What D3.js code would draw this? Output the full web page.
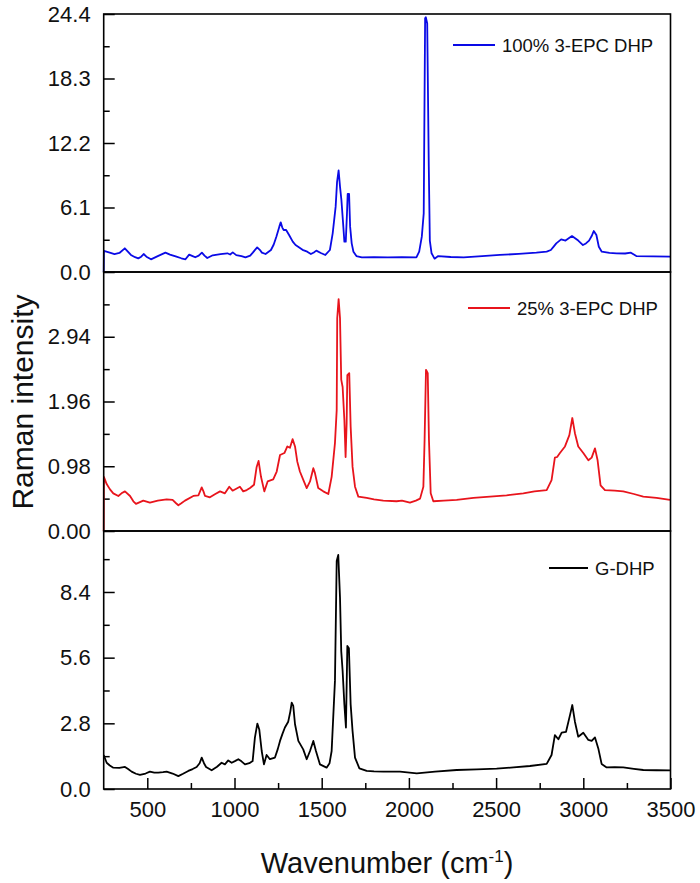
<!DOCTYPE html>
<html><head><meta charset="utf-8">
<script src="https://cdn.jsdelivr.net/npm/d3@7/dist/d3.min.js"></script>
<style>
body{margin:0;background:#fff}
text{font-family:Arial,"Liberation Sans",sans-serif;fill:#111}
</style>
</head><body>
<svg id="chart" width="700" height="883"></svg>
<script>
// ---------- data ----------
const xTickValues = [500, 1000, 1500, 2000, 2500, 3000, 3500];
const xMinorTicks = [750, 1250, 1750, 2250, 2750, 3250];

const seriesNames = ["100% 3-EPC DHP", "25% 3-EPC DHP", "G-DHP"];

const yTicksTop = [0, 6.1, 12.2, 18.3, 24.4];
const yTickLabelsTop = ["0.0", "6.1", "12.2", "18.3", "24.4"];
const yTicksMid = [0, 0.98, 1.96, 2.94];
const yTickLabelsMid = ["0.00", "0.98", "1.96", "2.94"];
const yTicksBot = [0, 2.8, 5.6, 8.4];
const yTickLabelsBot = ["0.0", "2.8", "5.6", "8.4"];

// [wavenumber, intensity]
const blueSpectrum = [
[250,0],[251,1.99],[280,1.85],[312,1.70],[340,1.80],[371,2.24],[390,1.90],[406,1.61],[430,1.40],[448,1.29],
[465,1.45],[479,1.70],[495,1.45],[521,1.20],[560,1.50],[604,1.83],[630,1.65],[667,1.45],[695,1.30],[719,1.20],
[740,1.64],[760,1.50],[775,1.39],[795,1.55],[813,1.83],[828,1.55],[844,1.32],[875,1.58],[920,1.70],[959,1.77],
[975,1.65],[990,1.86],[1010,1.60],[1040,1.50],[1063,1.39],[1090,1.55],[1105,1.83],[1130,2.33],[1145,2.10],[1157,1.83],
[1178,1.70],[1209,2.08],[1225,2.60],[1240,3.34],[1257,4.29],[1265,4.70],[1274,4.20],[1282,3.97],[1296,3.97],[1313,3.50],
[1334,2.87],[1350,2.55],[1365,2.39],[1390,2.10],[1417,1.92],[1438,1.70],[1455,1.85],[1469,2.02],[1495,1.80],[1521,1.61],
[1547,2.08],[1563,3.66],[1580,6.18],[1588,8.50],[1597,9.60],[1605,8.07],[1613,6.81],[1622,4.76],[1630,2.87],[1638,2.87],
[1645,5.55],[1649,7.38],[1657,7.38],[1663,4.29],[1672,2.71],[1682,1.92],[1699,1.51],[1730,1.39],[1800,1.40],[1880,1.38],
[1960,1.40],[2043,1.39],[2059,1.92],[2074,3.34],[2085,5.55],[2093,24.0],[2097,24.1],[2105,23.5],[2114,10.0],[2120,2.97],
[2130,1.77],[2147,1.26],[2168,1.51],[2240,1.42],[2314,1.39],[2420,1.50],[2522,1.61],[2630,1.72],[2731,1.83],[2790,1.92],
[2814,2.08],[2830,2.40],[2845,2.71],[2873,3.09],[2898,2.97],[2935,3.40],[2971,2.97],[2998,2.55],[3015,2.70],[3033,2.97],
[3048,3.40],[3060,3.88],[3075,3.50],[3089,2.39],[3106,1.92],[3150,1.80],[3190,1.77],[3240,1.75],[3273,1.83],[3304,1.51],
[3400,1.47],[3500,1.45]
];

const redSpectrum = [
[250,0],[251,0.82],[267,0.71],[286,0.63],[305,0.57],[334,0.53],[352,0.57],[372,0.60],[401,0.53],[420,0.45],
[435,0.41],[477,0.46],[515,0.43],[560,0.46],[611,0.48],[645,0.47],[665,0.42],[678,0.39],[695,0.42],[716,0.46],
[764,0.53],[793,0.54],[812,0.66],[822,0.60],[831,0.53],[859,0.51],[890,0.56],[917,0.60],[945,0.57],[970,0.67],
[989,0.61],[1010,0.64],[1031,0.67],[1050,0.60],[1070,0.62],[1089,0.65],[1112,0.70],[1127,0.97],[1138,1.06],[1152,0.82],
[1171,0.60],[1190,0.75],[1222,0.78],[1242,0.90],[1261,1.15],[1286,1.18],[1303,1.28],[1318,1.26],[1333,1.39],[1347,1.28],
[1360,1.05],[1375,0.90],[1398,0.75],[1414,0.65],[1433,0.75],[1452,0.95],[1461,0.88],[1480,0.65],[1509,0.60],[1538,0.56],
[1557,0.82],[1576,1.33],[1586,1.83],[1589,3.22],[1597,3.51],[1605,3.22],[1612,2.29],[1620,2.18],[1630,1.68],[1637,1.12],
[1643,1.63],[1647,2.36],[1658,2.39],[1666,1.58],[1677,0.97],[1691,0.67],[1710,0.52],[1758,0.50],[1800,0.48],[1853,0.46],
[1929,0.45],[1960,0.46],[2006,0.43],[2040,0.46],[2064,0.49],[2083,0.67],[2090,1.38],[2098,2.44],[2108,2.39],[2115,1.38],
[2125,0.57],[2140,0.45],[2200,0.46],[2274,0.47],[2370,0.50],[2465,0.52],[2560,0.54],[2656,0.57],[2720,0.60],[2790,0.62],
[2818,0.77],[2837,1.11],[2850,1.12],[2866,1.18],[2895,1.28],[2920,1.45],[2937,1.71],[2952,1.48],[2971,1.28],[3000,1.18],
[3029,1.07],[3048,1.11],[3067,1.25],[3082,1.07],[3099,0.69],[3124,0.62],[3180,0.61],[3229,0.60],[3290,0.56],[3344,0.52],
[3420,0.50],[3497,0.47]
];

const blackSpectrum = [
[250,1.45],[267,1.12],[285,1.00],[305,0.91],[340,0.90],[372,0.94],[390,0.85],[410,0.74],[435,0.65],[458,0.60],
[490,0.66],[515,0.74],[540,0.70],[563,0.70],[590,0.72],[611,0.74],[645,0.66],[678,0.55],[705,0.65],[735,0.77],
[760,0.85],[783,0.94],[800,1.10],[812,1.34],[825,1.10],[837,0.94],[869,0.80],[900,0.95],[926,1.12],[945,1.05],
[964,1.22],[984,1.12],[1005,1.20],[1022,1.27],[1040,1.18],[1060,1.05],[1085,1.10],[1104,1.19],[1117,2.19],[1131,2.79],
[1142,2.54],[1156,1.62],[1169,1.05],[1184,1.45],[1203,1.27],[1232,1.34],[1248,1.70],[1261,2.05],[1275,2.35],[1289,2.62],
[1308,2.87],[1320,3.30],[1328,3.68],[1337,3.54],[1347,2.76],[1366,2.05],[1394,1.69],[1414,1.27],[1433,1.62],[1452,2.05],
[1467,1.62],[1490,1.05],[1528,0.91],[1545,1.10],[1557,1.62],[1576,4.61],[1586,9.72],[1595,9.98],[1605,8.16],[1612,5.88],
[1620,5.03],[1630,3.61],[1639,2.62],[1647,6.10],[1656,6.00],[1666,3.61],[1677,2.47],[1691,1.34],[1716,0.88],[1758,0.77],
[1800,0.75],[1853,0.74],[1949,0.74],[2045,0.67],[2150,0.74],[2274,0.81],[2390,0.84],[2503,0.87],[2600,0.92],[2694,0.98],
[2790,1.07],[2818,1.45],[2837,2.30],[2857,2.12],[2876,2.40],[2901,2.44],[2924,3.16],[2937,3.58],[2952,2.87],[2971,2.23],
[3000,2.40],[3029,2.09],[3048,2.05],[3067,2.20],[3086,1.73],[3105,1.07],[3134,0.92],[3180,0.93],[3229,0.92],[3290,0.86],
[3344,0.81],[3420,0.80],[3497,0.79]
];

// ---------- layout ----------
const svg = d3.select("#chart");
const left = 103.7, right = 670.5;
const x = d3.scaleLinear().domain([250, 3500]).range([left, right]);

const panels = [
  {data: blueSpectrum, color: "#0a0ae6", top: 14, bottom: 272, max: 24.4,
   ticks: yTicksTop, labels: yTickLabelsTop, name: seriesNames[0], lx1: 453, lx2: 495, ly: 45},
  {data: redSpectrum, color: "#e8141c", top: 272, bottom: 531, max: 3.92,
   ticks: yTicksMid, labels: yTickLabelsMid, name: seriesNames[1], lx1: 468, lx2: 510, ly: 308},
  {data: blackSpectrum, color: "#000000", top: 531, bottom: 789, max: 11.0,
   ticks: yTicksBot, labels: yTickLabelsBot, name: seriesNames[2], lx1: 549, lx2: 588, ly: 568}
];

panels.forEach((p, i) => {
  const y = d3.scaleLinear().domain([0, p.max]).range([p.bottom, p.top]);
  const g = svg.append("g");

  // minor ticks
  const minor = [];
  for (let k = 0; k < p.ticks.length; k++) {
    const step = p.ticks[1] - p.ticks[0];
    minor.push(p.ticks[k] + step / 2);
  }
  g.append("g").attr("transform", `translate(${left},0)`)
    .call(d3.axisLeft(y).tickValues(minor.filter(v => v < p.max)).tickSize(-6).tickFormat(""))
    .call(a => a.select(".domain").remove())
    .call(a => a.selectAll("line").attr("stroke", "#000").attr("stroke-width", 1.5));

  // major ticks + labels
  g.append("g").attr("transform", `translate(${left},0)`)
    .call(d3.axisLeft(y).tickValues(p.ticks).tickSize(-11).tickPadding(13)
      .tickFormat((d, j) => p.labels[j]))
    .call(a => a.select(".domain").remove())
    .call(a => a.selectAll("line").attr("stroke", "#000").attr("stroke-width", 1.5))
    .call(a => a.selectAll("text").style("font-size", "22px").attr("fill", "#111"));

  // line
  const line = d3.line().x(d => x(d[0])).y(d => y(d[1]));
  g.append("path").datum(p.data)
    .attr("d", line).attr("fill", "none")
    .attr("stroke", p.color).attr("stroke-width", 1.8).attr("stroke-linejoin", "round");

  // frame
  g.append("rect").attr("x", left).attr("y", p.top)
    .attr("width", right - left).attr("height", p.bottom - p.top)
    .attr("fill", "none").attr("stroke", "#000").attr("stroke-width", 1.6);

  // legend
  g.append("line").attr("x1", p.lx1).attr("x2", p.lx2).attr("y1", p.ly).attr("y2", p.ly)
    .attr("stroke", p.color).attr("stroke-width", 2);
  g.append("text").attr("x", p.lx2 + 7).attr("y", p.ly + 6.5)
    .style("font-size", "18.5px").text(p.name);
});

// x axis (bottom panel)
const xg = svg.append("g").attr("transform", "translate(0,789)");
xg.call(d3.axisBottom(x).tickValues(xMinorTicks).tickSize(-6).tickFormat(""))
  .call(a => a.select(".domain").remove())
  .call(a => a.selectAll("line").attr("stroke", "#000").attr("stroke-width", 1.5));
const xg2 = svg.append("g").attr("transform", "translate(0,789)");
xg2.call(d3.axisBottom(x).tickValues(xTickValues).tickSize(-11).tickPadding(12).tickFormat(d3.format("d")))
  .call(a => a.select(".domain").remove())
  .call(a => a.selectAll("line").attr("stroke", "#000").attr("stroke-width", 1.5))
  .call(a => a.selectAll("text").style("font-size", "22px").attr("fill", "#111"));

// axis titles
const xt = svg.append("text").attr("x", (left + right) / 2).attr("y", 873)
  .attr("text-anchor", "middle").style("font-size", "29px");
xt.append("tspan").text("Wavenumber (cm");
xt.append("tspan").attr("dy", -11).style("font-size", "17px").text("-1");
xt.append("tspan").attr("dy", 11).text(")");

svg.append("text").attr("transform", "translate(33,402) rotate(-90)")
  .attr("text-anchor", "middle").style("font-size", "30px").text("Raman intensity");
</script>
</body></html>
